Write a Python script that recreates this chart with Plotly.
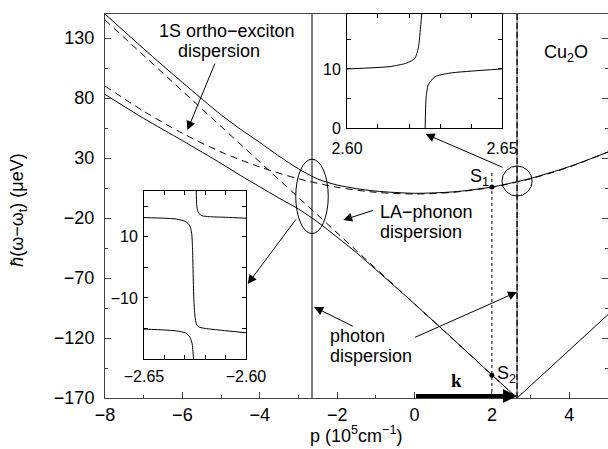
import plotly.graph_objects as go

# ---------------- data ----------------
# main panel: momentum p (10^5 cm^-1) and energy hbar(w-w_t) (ueV)
p_exc = [-8, -7, -6, -5, -4, -3, -2, -1, 0, 1, 2, 3, 4, 5]
e_exc = [90, 69, 50.6, 35, 22.5, 12.7, 5.6, 1.4, 0, 1.4, 5.6, 12.7, 22.5, 35]

p_ph = [-8, 2.65]
e_ph = [145, -170]

p_upper = [-8, -7, -6, -5, -4.5, -4, -3.5, -3, -2.5, -2, -1.5, -1, 0, 1, 2, 2.65, 3, 4, 5]
e_upper = [150, 121, 93, 66, 54, 43, 31.5, 21, 12.5, 7.5, 4.5, 2.4, 0.6, 1.8, 5.8, 10.3, 13, 22.8, 35]

p_lower = [-8, -7, -6, -5, -4.5, -4, -3.5, -3, -2.5, -2, -1.5, -1, 0, 1, 2, 2.65]
e_lower = [83, 63, 44.5, 25.5, 15.5, 6, -3.5, -12.5, -23.5, -36, -49, -63, -91.6, -121, -150.8, -170]

p_vee = [2.65, 5]
e_vee = [-170, -100.5]

photon_p = [-2.65, 2.65]

s_p = [2, 2]
s_e = [5.8, -151]

# left inset (p from -2.65 to -2.60)
liA_p = [-2.6244, -2.6242, -2.6238, -2.6230, -2.6215, -2.618, -2.61, -2.60]
liA_e = [25, 21, 18.8, 17.6, 16.9, 16.6, 16.4, 16.1]
liB_p = [-2.65, -2.64, -2.634, -2.6295, -2.6275, -2.6266, -2.6262, -2.6256, -2.6250, -2.6243, -2.6232, -2.620, -2.612, -2.60]
liB_e = [16.3, 16.1, 15.8, 15.0, 13.6, 11, 6, -10, -16, -18.6, -19.5, -20.0, -20.6, -21.4]
liC_p = [-2.65, -2.64, -2.634, -2.6295, -2.6275, -2.6264, -2.6260, -2.6257]
liC_e = [-20.2, -20.5, -20.8, -21.5, -22.8, -25, -27.5, -30]

# right inset (p from 2.60 to 2.65)
riA_p = [2.60, 2.6139, 2.6193, 2.6219, 2.6230, 2.6238, 2.6241]
riA_e = [10.0, 10.4, 11.0, 11.8, 13.5, 17.5, 19.3]
riB_p = [2.6252, 2.6255, 2.6262, 2.6284, 2.6332, 2.65]
riB_e = [0.0, 5.0, 7.3, 8.7, 9.3, 10.0]

# tick labels
main_x_ticks = [-8, -6, -4, -2, 0, 2, 4]
main_y_ticks = [-170, -120, -70, -20, 30, 80, 130]
li_x_vals = [-2.65, -2.60]
li_x_text = ["\u22122.65", "\u22122.60"]
li_x_minor = [-2.64, -2.63, -2.62, -2.61]
li_y_vals = [-10, 10]
li_y_text = ["\u221210", "10"]
li_y_minor = [-20, 0, 20]
ri_x_vals = [2.60, 2.65]
ri_x_text = ["2.60", "2.65"]
ri_x_minor = [2.61, 2.62, 2.63, 2.64]
ri_y_vals = [0, 10]
ri_y_text = ["0", "10"]
ri_y_minor = [5, 15]

# ---------------- figure ----------------
FONT = "Liberation Sans"
BLK = "black"
fig = go.Figure()

dash = "7px,5px"
fig.add_trace(go.Scatter(x=p_exc, y=e_exc, mode="lines", line=dict(color=BLK, width=1, dash=dash, shape="spline", smoothing=0.8)))
fig.add_trace(go.Scatter(x=p_ph, y=e_ph, mode="lines", line=dict(color=BLK, width=1, dash=dash)))
fig.add_trace(go.Scatter(x=p_upper, y=e_upper, mode="lines", line=dict(color=BLK, width=1, shape="spline", smoothing=0.8)))
fig.add_trace(go.Scatter(x=p_lower, y=e_lower, mode="lines", line=dict(color=BLK, width=1, shape="spline", smoothing=0.8)))
fig.add_trace(go.Scatter(x=p_vee, y=e_vee, mode="lines", line=dict(color=BLK, width=1)))
# photon lines
fig.add_trace(go.Scatter(x=[photon_p[0]] * 2, y=[-170, 150], mode="lines", line=dict(color=BLK, width=1)))
fig.add_trace(go.Scatter(x=[photon_p[1]] * 2, y=[-170, 150], mode="lines", line=dict(color="#777", width=1.5)))
fig.add_trace(go.Scatter(x=[photon_p[1]] * 2, y=[-170, 150], mode="lines", line=dict(color="#222", width=1.5, dash="6px,3px")))
fig.add_trace(go.Scatter(x=s_p, y=s_e, mode="markers", marker=dict(color=BLK, size=5)))

# insets
for px_, pe_ in [(liA_p, liA_e), (liB_p, liB_e), (liC_p, liC_e)]:
    fig.add_trace(go.Scatter(x=px_, y=pe_, mode="lines", xaxis="x2", yaxis="y2",
                             line=dict(color=BLK, width=1, shape="spline", smoothing=0.6)))
for px_, pe_ in [(riA_p, riA_e), (riB_p, riB_e)]:
    fig.add_trace(go.Scatter(x=px_, y=pe_, mode="lines", xaxis="x3", yaxis="y3",
                             line=dict(color=BLK, width=1, shape="spline", smoothing=0.6)))

axcol = "#444"
tickfont = dict(family=FONT, size=18, color=BLK)
itickfont = dict(family=FONT, size=16, color=BLK)


def inset_axis(domain, anchor, rng, vals, text, minor_vals, standoff):
    return dict(domain=domain, anchor=anchor, range=rng, automargin=False,
                tickmode="array", tickvals=vals, ticktext=text, tickangle=0,
                ticks="inside", ticklen=4, tickcolor=BLK,
                minor=dict(tickmode="array", tickvals=minor_vals, ticks="inside", ticklen=4, tickcolor=BLK),
                showline=True, linecolor=BLK, mirror="allticks", showgrid=False, zeroline=False,
                tickfont=itickfont, ticklabelstandoff=standoff)


fig.update_layout(
    template="none",
    width=608, height=449,
    margin=dict(l=105, r=0, t=14, b=51, pad=0),
    paper_bgcolor="white", plot_bgcolor="white",
    showlegend=False,
    font=dict(family=FONT, size=18, color=BLK),
    xaxis=dict(range=[-8, 5], tickvals=main_x_ticks, ticks="inside", ticklen=6, tickcolor=axcol,
               minor=dict(dtick=1, tick0=0, ticks="inside", ticklen=3, tickcolor=axcol),
               showline=True, linecolor=axcol, linewidth=1, mirror=True, automargin=False,
               showgrid=False, zeroline=False, tickfont=tickfont, ticklabelstandoff=0),
    yaxis=dict(range=[-170, 150], tickvals=main_y_ticks, ticks="inside", ticklen=6, tickcolor=axcol,
               minor=dict(dtick=25, tick0=-170, ticks="inside", ticklen=3, tickcolor=axcol),
               showline=True, linecolor=axcol, linewidth=1, mirror="allticks", automargin=False,
               showgrid=False, zeroline=False, tickfont=tickfont, ticklabelstandoff=6),
    xaxis2=inset_axis([0.0775, 0.2803], "y2", [-2.65, -2.60], li_x_vals, li_x_text, li_x_minor, 3),
    yaxis2=inset_axis([0.1016, 0.539], "x2", [-30, 25], li_y_vals, li_y_text, li_y_minor, 2),
    xaxis3=inset_axis([0.4811, 0.7893], "y3", [2.60, 2.65], ri_x_vals, ri_x_text, ri_x_minor, 6),
    yaxis3=inset_axis([0.7031, 1.0], "x3", [0, 19.3], ri_y_vals, ri_y_text, ri_y_minor, 2),
)

# shapes: ellipse, circle, dotted S1-S2 line
fig.add_shape(type="circle", xref="x", yref="y", x0=-3.07, x1=-2.23, y0=-33, y1=29,
              line=dict(color=BLK, width=1))
fig.add_shape(type="circle", xref="x", yref="y", x0=2.26, x1=3.04, y0=-1.7, y1=23.3,
              line=dict(color=BLK, width=1))
fig.add_shape(type="line", xref="x", yref="y", x0=2, x1=2, y0=17.5, y1=-170,
              line=dict(color=BLK, width=1, dash="dot"))

ann = []
def arrow(tip, tail, width=1, size=1.8):
    ann.append(dict(x=tip[0], y=tip[1], ax=tail[0], ay=tail[1], xref="x", yref="y",
                    axref="x", ayref="y", text="", showarrow=True, arrowhead=2,
                    arrowsize=size, arrowwidth=width, arrowcolor=BLK, standoff=0, startstandoff=0))

def label(x, y, text, xanchor="center", size=18, family=FONT):
    ann.append(dict(x=x, y=y, xref="x", yref="y", text=text, showarrow=False,
                    xanchor=xanchor, yanchor="middle", font=dict(family=family, size=size, color=BLK)))

arrow((-5.87, 53.3), (-5.143, 110))
arrow((-1.844, -21.7), (-1.039, -13.3))
arrow((-2.597, -94.2), (-1.558, -110.8))
arrow((2.649, -81.7), (-0.026, -120))
arrow((0.286, 50), (2.312, 21.7))
arrow((-4.312, -75), (-3.039, -20))
arrow((2.65, -168.3), (0, -168.3), width=4, size=0.7)

label(-4.844, 136, "1S ortho\u2212exciton")
label(-5.052, 119, "dispersion")
label(-0.935, -15, "LA\u2212phonon", xanchor="left")
label(-0.935, -32, "dispersion", xanchor="left")
label(-2.234, -118.3, "photon", xanchor="left")
label(-2.234, -135.3, "dispersion", xanchor="left")
label(3.299, 117.5, "Cu<sub>2</sub>O", xanchor="left")
label(1.98, 13.5, "S<sub>1</sub>", xanchor="right")
label(2.09, -150.5, "S<sub>2</sub>", xanchor="left")
label(1.09, -155, "<b>k</b>", family="Liberation Serif", size=19)

ann.append(dict(x=-0.171, y=0.49, xref="paper", yref="paper", xanchor="center", yanchor="middle",
                text="<i>\u0127</i>(\u03c9\u2212\u03c9<sub>t</sub>) (\u03bceV)",
                showarrow=False, textangle=-90, font=dict(family=FONT, size=18, color=BLK)))
ann.append(dict(x=0.499, y=-0.096, xref="paper", yref="paper", xanchor="center", yanchor="middle",
                text="p (10<sup>5</sup>cm<sup>\u22121</sup>)",
                showarrow=False, font=dict(family=FONT, size=18, color=BLK)))
fig.update_layout(annotations=ann)

fig.write_html("out.html")
